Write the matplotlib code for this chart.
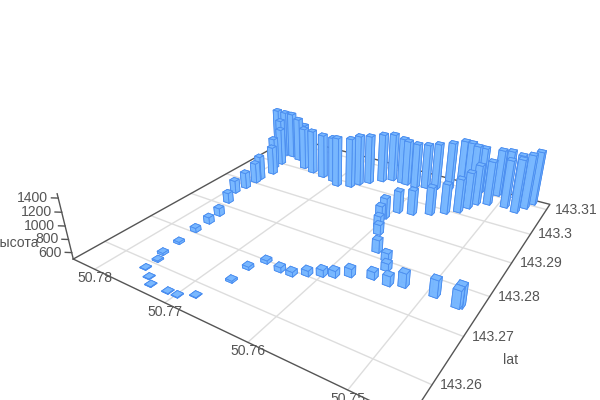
import numpy as np
import matplotlib
matplotlib.use("Agg")
import matplotlib.pyplot as plt
from mpl_toolkits.mplot3d import proj3d

plt.rcParams["font.family"] = ["Liberation Sans", "DejaVu Sans"]

# ==============================
# DATA
# ==============================

lat = [
    143.2585, 143.2571, 143.2559, 143.2561, 143.2562, 143.2576, 143.2610, 143.2628, 143.2665,
    143.2707, 143.2740, 143.2770, 143.2815, 143.2852, 143.2878, 143.2907, 143.2923, 143.2956,
    143.2979, 143.3003, 143.3031, 143.3045, 143.3045, 143.3046, 143.3039, 143.3012, 143.3080,
    143.3004, 143.2998, 143.2993, 143.2981, 143.2991, 143.3008, 143.3025, 143.3045, 143.3060,
    143.3060, 143.3058, 143.3057, 143.3065, 143.3072, 143.3083, 143.3103, 143.3103, 143.3100,
    143.3108, 143.3109, 143.3117, 143.3117, 143.2951, 143.2958, 143.2975, 143.2993, 143.3010,
    143.3033, 143.3055, 143.3066, 143.3072, 143.3064, 143.3088, 143.3111, 143.2920, 143.2909,
    143.2887, 143.2867, 143.2818, 143.2804, 143.2781, 143.2749, 143.2758, 143.2761, 143.2758,
    143.2755, 143.2751, 143.2738, 143.2724, 143.2716, 143.2705, 143.2692, 143.2691, 143.2698,
    143.2670, 143.2631,
]
lon = [
    50.7759, 50.7744, 50.7733, 50.7711, 50.7699, 50.7684, 50.7759, 50.7764, 50.7765,
    50.7767, 50.7767, 50.7769, 50.7781, 50.7791, 50.7788, 50.7787, 50.7788, 50.7784,
    50.7793, 50.7793, 50.7807, 50.7818, 50.7805, 50.7794, 50.7780, 50.7758, 50.7789,
    50.7741, 50.7722, 50.7704, 50.7693, 50.7677, 50.7671, 50.7662, 50.7650, 50.7640,
    50.7626, 50.7619, 50.7606, 50.7594, 50.7582, 50.7567, 50.7556, 50.7547, 50.7539,
    50.7531, 50.7510, 50.7500, 50.7487, 50.7595, 50.7579, 50.7561, 50.7547, 50.7535,
    50.7529, 50.7524, 50.7512, 50.7492, 50.7478, 50.7471, 50.7466, 50.7602, 50.7604,
    50.7598, 50.7591, 50.7575, 50.7559, 50.7551, 50.7538, 50.7524, 50.7492, 50.7466,
    50.7468, 50.7556, 50.7577, 50.7590, 50.7601, 50.7614, 50.7627, 50.7641, 50.7662,
    50.7671, 50.7671,
]
height = [
    509, 509, 508, 508, 508, 508, 521, 532, 534,
    566, 602, 623, 665, 707, 763, 833, 895, 968,
    1024, 1123, 1169, 1291, 1286, 1281, 1242, 1204, 998,
    1232, 1232, 1252, 1316, 1318, 1331, 1305, 1309, 1294,
    1258, 1244, 1238, 1235, 1262, 1290, 1294, 1290, 1268,
    1234, 1259, 1249, 1221, 852, 898, 946, 980, 1042,
    1085, 1146, 1207, 1272, 1353, 1368, 1360, 829, 736,
    683, 657, 694, 624, 614, 647, 711, 755, 814,
    759, 613, 623, 600, 600, 582, 567, 574, 549,
    546, 529,
]

lat_ticks = [143.26, 143.27, 143.28, 143.29, 143.30, 143.31]
lat_labels = ["143.26", "143.27", "143.28", "143.29", "143.3", "143.31"]
lon_ticks = [50.78, 50.77, 50.76, 50.75]
lon_labels = ["50.78", "50.77", "50.76", "50.75"]
z_ticks = [600, 800, 1000, 1200, 1400]

lat_lo, lat_hi = 143.2539, 143.3123
lon_lo, lon_hi = 50.7447, 50.7834
z_lo, z_hi = 500, 1460

TEXT = "#555555"
AXIS = "#555555"
GRID = "#dddddd"
BAR = "#79b8ff"
BAR_EDGE = "#4b8ef0"

# ==============================
# SCENE
# ==============================

fig = plt.figure(figsize=(6, 4), dpi=100)
# square 900 px axes, hanging over the figure, so that the camera lands like the reference
ax = fig.add_axes([-132.41 / 600, -261.79 / 400, 900 / 600, 900 / 400], projection="3d")
ax.set_axis_off()
ax.computed_zorder = False
ax.set_xlim(lat_lo, lat_hi, view_margin=0)
ax.set_ylim(lon_lo, lon_hi, view_margin=0)
ax.set_zlim(z_lo, z_hi, view_margin=0)
ax.view_init(elev=28.6161, azim=212.6258)
ax.set_box_aspect((1, 1, 0.1992), zoom=0.5433)
ax.set_proj_type("persp", focal_length=0.1231)
ax.apply_aspect()


def flat(x, y, z):
    px, py, _ = proj3d.proj_transform(x, y, z, ax.get_proj())
    return px, py


def label(text, x, y, z, offset, ha="center", va="center"):
    ax.annotate(text, xy=flat(x, y, z), xytext=offset, textcoords="offset pixels",
                ha=ha, va=va, fontsize=10.1, color=TEXT, annotation_clip=False, zorder=500)


# floor grid
for t in lat_ticks:
    ax.plot([t, t], [lon_lo, lon_hi], [z_lo, z_lo], color=GRID, lw=1, zorder=1)
for t in lon_ticks:
    ax.plot([lat_lo, lat_hi], [t, t], [z_lo, z_lo], color=GRID, lw=1, zorder=1)

# floor outline and height axis
edge_lat = [lat_lo, lat_hi, lat_hi, lat_lo, lat_lo]
edge_lon = [lon_hi, lon_hi, lon_lo, lon_lo, lon_hi]
ax.plot(edge_lat, edge_lon, [z_lo] * 5, color=AXIS, lw=1, zorder=2)
ax.plot([lat_lo, lat_lo], [lon_hi, lon_hi], [z_lo, z_hi], color=AXIS, lw=1, zorder=2)
for t in z_ticks:
    ax.plot([lat_lo, lat_lo - 0.0005], [lon_hi, lon_hi + 0.0006], [t, t], color=AXIS, lw=1, zorder=2)

# bars, far ones first
dx, dy = 0.0012, 0.00083
order = sorted(
    range(len(lat)),
    key=lambda i: -((lat[i] - lat_lo) / (lat_hi - lat_lo) * 0.842 + (lon[i] - lon_lo) / (lon_hi - lon_lo) * 0.539),
)
for n, i in enumerate(order):
    ax.bar3d(lat[i] - dx / 2, lon[i] - dy / 2, z_lo, dx, dy, height[i] - z_lo, color=BAR,
             edgecolor=BAR_EDGE, linewidth=0.6, shade=False, alpha=0.95, zorder=10 + n)

# ==============================
# TEXT
# ==============================

for t, s in zip(lat_ticks, lat_labels):
    label(s, t, lon_lo, z_lo, (8, 0), ha="left")
for t, s in zip(lon_ticks, lon_labels):
    label(s, lat_lo, t, z_lo, (0, -9))
for t in z_ticks:
    label(str(t), lat_lo, lon_hi, t, (-10, 0), ha="right")

fig.text(511 / 600, 1 - 360 / 400, "lat", ha="center", va="center", fontsize=10.1, color=TEXT)
fig.text(39 / 600, 1 - 243 / 400, "высота", ha="right", va="center", fontsize=10.1, color=TEXT)

fig.savefig("out.png", dpi=100)
